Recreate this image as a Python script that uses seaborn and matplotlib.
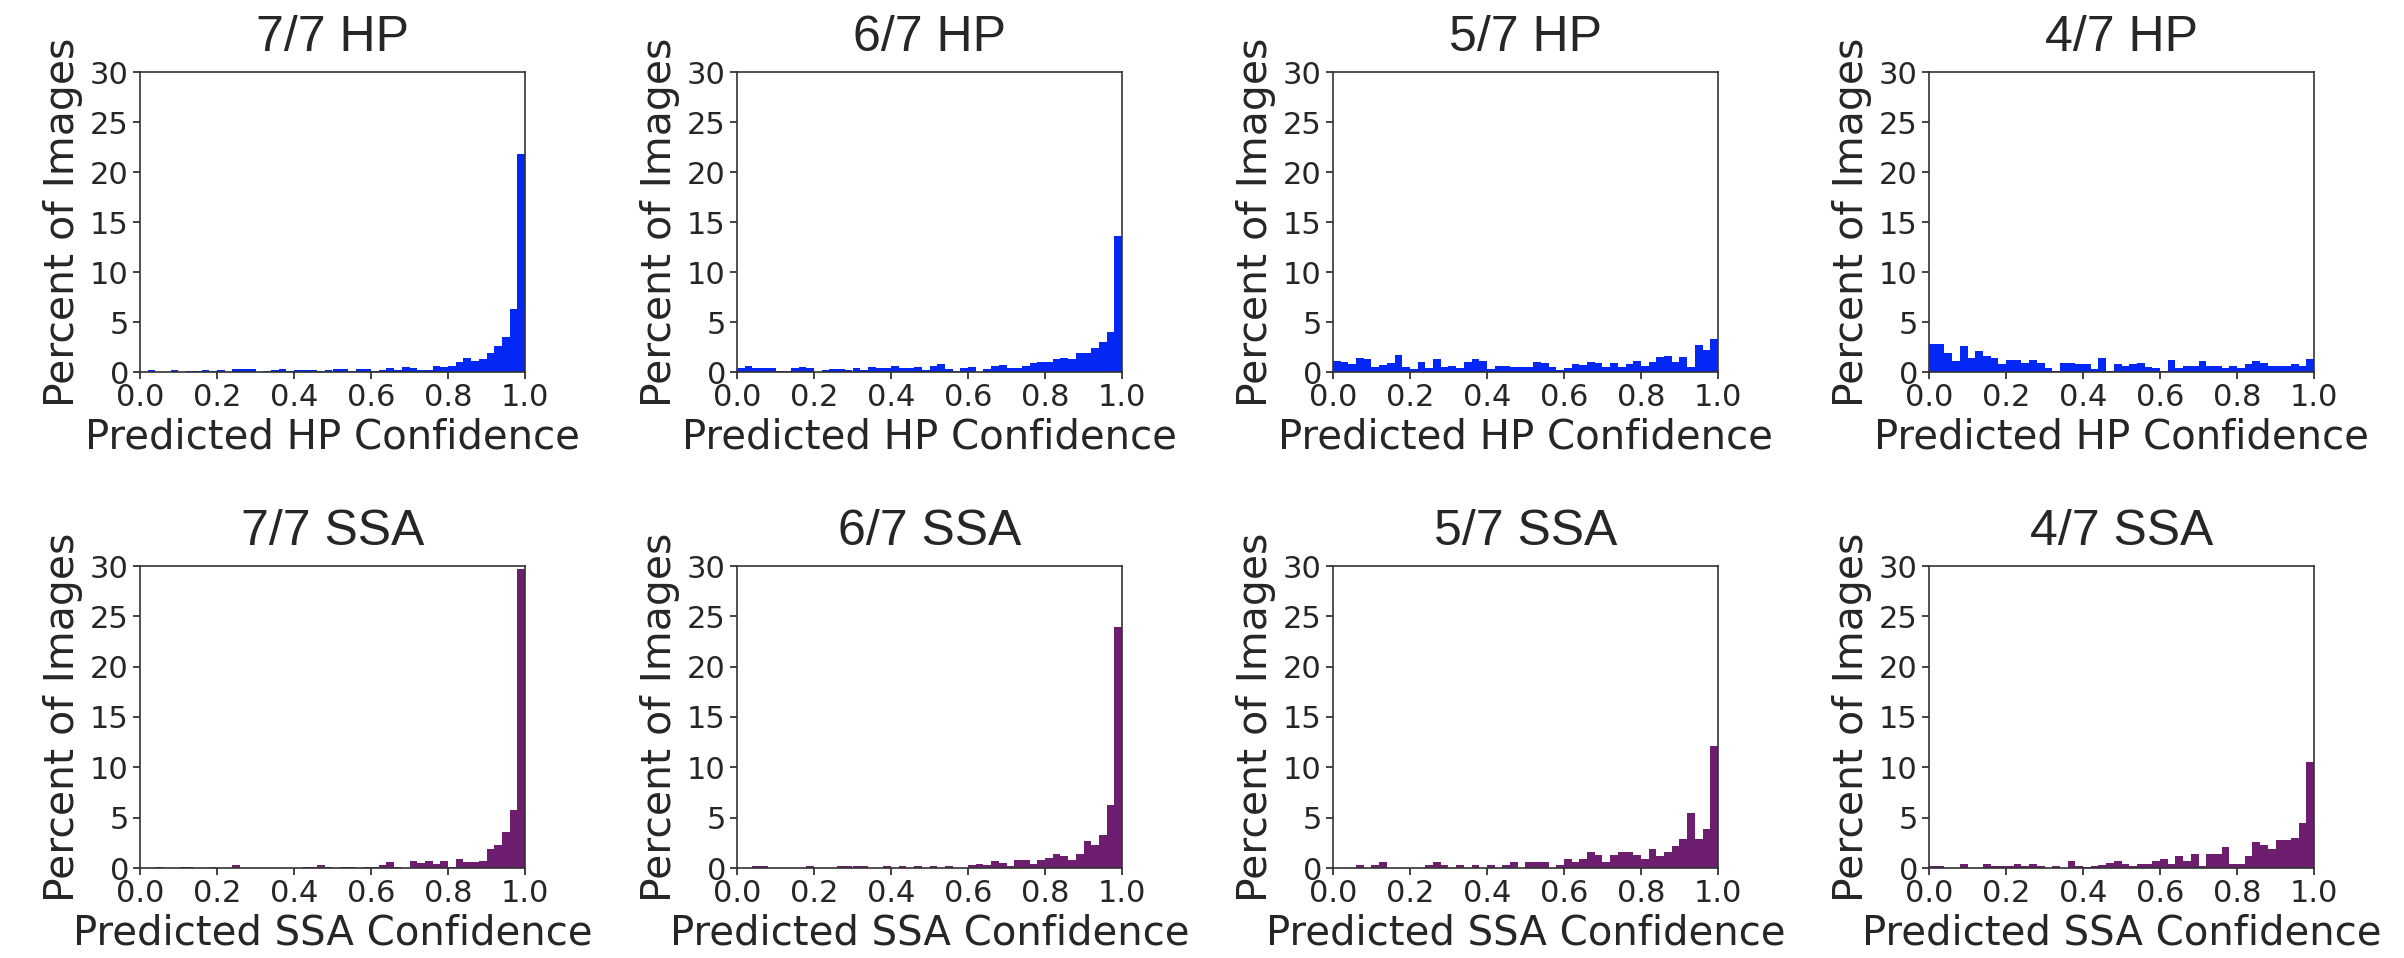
import numpy as np
import pandas as pd
import matplotlib
matplotlib.use("Agg")
import matplotlib.pyplot as plt
import seaborn as sns

sns.set_style("ticks")
plt.rcParams['font.family'] = ['DejaVu Sans']

# 50 bins of width 0.02 on [0, 1]; values are percent of images per bin
n_bins = 50
bin_range = (0.0, 1.0)

hp_7of7 = [0.02, 0.2, 0.05, 0.05, 0.25, 0.05, 0.1, 0.1, 0.2, 0.1,
           0.2, 0.05, 0.35, 0.3, 0.3, 0.05, 0.1, 0.2, 0.3, 0.1,
           0.2, 0.2, 0.2, 0.15, 0.25, 0.3, 0.3, 0.1, 0.35, 0.3,
           0.07, 0.2, 0.45, 0.2, 0.5, 0.4, 0.25, 0.25, 0.63, 0.5,
           0.63, 1.0, 1.38, 1.15, 1.29, 1.88, 2.6, 3.46, 6.3, 21.8]
hp_6of7 = [0.37, 0.6, 0.37, 0.43, 0.43, 0.13, 0.13, 0.37, 0.47, 0.37,
           0.03, 0.2, 0.27, 0.27, 0.17, 0.37, 0.17, 0.53, 0.37, 0.37,
           0.6, 0.37, 0.43, 0.53, 0.2, 0.63, 0.77, 0.3, 0.13, 0.43,
           0.53, 0.03, 0.3, 0.6, 0.67, 0.37, 0.37, 0.6, 0.87, 0.97,
           0.97, 1.3, 1.37, 1.33, 1.87, 1.87, 2.43, 2.97, 4.0, 13.6]
hp_5of7 = [1.13, 1.0, 0.8, 1.37, 1.27, 0.53, 0.67, 0.87, 1.73, 0.5,
           0.27, 1.0, 0.4, 1.33, 0.5, 0.63, 0.4, 0.97, 1.33, 1.13,
           0.27, 0.63, 0.63, 0.5, 0.5, 0.5, 1.03, 0.9, 0.5, 0.23,
           0.37, 0.77, 0.67, 1.0, 0.87, 0.5, 0.87, 0.5, 0.77, 1.13,
           0.63, 0.97, 1.47, 1.57, 1.0, 1.5, 0.5, 2.73, 2.2, 3.33]
hp_4of7 = [2.77, 2.77, 1.93, 1.07, 2.57, 1.4, 2.1, 1.6, 1.43, 0.8,
           1.23, 1.23, 0.93, 1.23, 0.93, 0.43, 0.1, 0.93, 0.93, 0.8,
           0.8, 0.27, 1.4, 0.1, 0.77, 0.6, 0.8, 0.93, 0.53, 0.37,
           0.1, 1.23, 0.43, 0.57, 0.57, 1.07, 0.57, 0.57, 0.43, 0.6,
           0.43, 0.8, 1.07, 0.93, 0.6, 0.6, 0.6, 0.8, 0.6, 1.27]
ssa_7of7 = [0, 0, 0.13, 0, 0, 0.13, 0.13, 0, 0, 0.13,
            0, 0, 0.27, 0, 0, 0, 0, 0, 0, 0,
            0, 0.13, 0.13, 0.27, 0.1, 0, 0.13, 0.13, 0, 0.13,
            0.13, 0.27, 0.56, 0.13, 0, 0.73, 0.46, 0.73, 0.43, 0.73,
            0.13, 0.86, 0.56, 0.56, 0.73, 1.89, 2.3, 3.54, 5.8, 29.7]
ssa_6of7 = [0, 0, 0.17, 0.17, 0, 0, 0, 0, 0, 0.17,
            0, 0, 0, 0.17, 0.17, 0.17, 0.17, 0, 0, 0.17,
            0, 0.17, 0, 0.17, 0, 0.17, 0, 0.17, 0, 0,
            0.27, 0.43, 0.27, 0.66, 0.46, 0.17, 0.83, 0.83, 0.43, 0.83,
            1.03, 1.42, 1.22, 0.83, 1.42, 2.7, 2.3, 3.3, 6.3, 23.9]
ssa_5of7 = [0, 0, 0, 0.27, 0, 0.27, 0.63, 0, 0, 0,
            0, 0, 0.27, 0.63, 0.27, 0, 0.27, 0, 0.27, 0,
            0.27, 0, 0.27, 0.63, 0, 0.63, 0.63, 0.63, 0, 0.27,
            0.93, 0.63, 0.93, 1.62, 1.26, 0.63, 1.26, 1.62, 1.62, 1.26,
            0.93, 1.92, 1.19, 1.62, 2.22, 2.88, 5.46, 2.88, 3.84, 12.1]
ssa_4of7 = [0.2, 0.2, 0, 0, 0.43, 0, 0, 0.43, 0.2, 0.2,
            0.2, 0.43, 0.2, 0.43, 0.2, 0, 0.2, 0, 0.7, 0.2,
            0.1, 0.2, 0.27, 0.5, 0.7, 0.43, 0.2, 0.43, 0.43, 0.7,
            0.93, 0.43, 1.16, 0.7, 1.42, 0.2, 1.42, 1.42, 2.09, 0.43,
            0.43, 1.16, 2.6, 2.28, 1.85, 2.8, 2.8, 2.98, 4.47, 10.5]

top_titles = ["7/7 HP", "6/7 HP", "5/7 HP", "4/7 HP"]
bottom_titles = ["7/7 SSA", "6/7 SSA", "5/7 SSA", "4/7 SSA"]
top_series = [hp_7of7, hp_6of7, hp_5of7, hp_4of7]
bottom_series = [ssa_7of7, ssa_6of7, ssa_5of7, ssa_4of7]
top_xlabel = "Predicted HP Confidence"
bottom_xlabel = "Predicted SSA Confidence"
ylabel = "Percent of Images"
x_ticks = [0.0, 0.2, 0.4, 0.6, 0.8, 1.0]
x_ticklabels = ["0.0", "0.2", "0.4", "0.6", "0.8", "1.0"]
y_ticks = [0, 5, 10, 15, 20, 25, 30]

HP_COLOR = "#0327f5"
SSA_COLOR = "#6e1e6f"

W, H = 2404, 958
fig = plt.figure(figsize=(W / 100, H / 100), dpi=100)
fig.patch.set_facecolor("white")

lefts_px = [140, 737, 1333, 1929]
width_px = 385
rows = [(72, 372), (566, 868)]  # top, bottom pixel y of axes

edges = np.linspace(bin_range[0], bin_range[1], n_bins + 1)
centers = (edges[:-1] + edges[1:]) / 2

for r, (titles, series, xl, color) in enumerate([
        (top_titles, top_series, top_xlabel, HP_COLOR),
        (bottom_titles, bottom_series, bottom_xlabel, SSA_COLOR)]):
    ytop, ybot = rows[r]
    for c in range(4):
        ax = fig.add_axes([lefts_px[c] / W, 1 - ybot / H, width_px / W, (ybot - ytop) / H])
        df = pd.DataFrame({"conf": centers, "pct": np.asarray(series[c], dtype=float)})
        sns.histplot(data=df, x="conf", weights="pct", bins=n_bins, binrange=bin_range,
                     stat="count", color=color, alpha=1.0, linewidth=0, ax=ax)
        ax.set_xlim(0, 1)
        ax.set_ylim(0, 30)
        ax.set_xticks(x_ticks)
        ax.set_xticklabels(x_ticklabels)
        ax.set_yticks(y_ticks)
        ax.tick_params(labelsize=22, length=5, width=1.2, color="#222222", pad=3)
        for s in ax.spines.values():
            s.set_visible(True)
            s.set_linewidth(1.2)
            s.set_color("#333333")
        ax.set_xlabel(xl, fontsize=29, labelpad=4)
        ax.set_ylabel(ylabel, fontsize=29.5, labelpad=5)
        ax.set_title(titles[c], fontsize=36, family=["Liberation Sans", "DejaVu Sans"], pad=15)
        ax.grid(False)

fig.savefig("out.png", dpi=100, facecolor="white")
